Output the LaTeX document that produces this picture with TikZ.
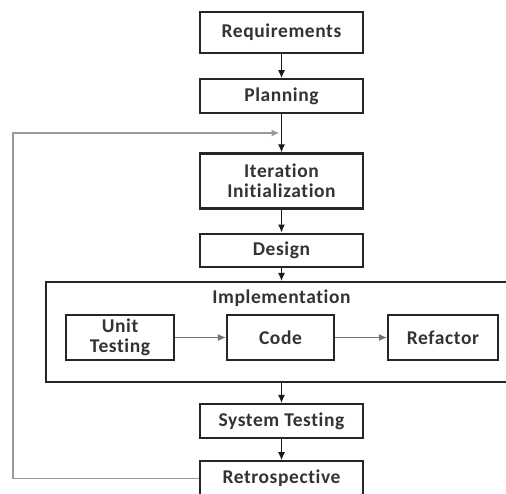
\documentclass[tikz,border=0pt]{standalone}
\usepackage{fontspec}
\setmainfont{Carlito}[Ligatures=NoCommon, LetterSpace=3]
\usetikzlibrary{positioning,arrows.meta}
\tikzset{
  stage/.style={draw=black!85, line width=2.2pt, minimum width=163pt, inner sep=2pt,
    font=\fontsize{19.5}{20}\selectfont\bfseries, text=black!80, align=center},
  sub/.style={stage, minimum width=108pt, minimum height=45pt},
  flow/.style={-{Latex[length=8pt,width=7pt]}, line width=1.1pt, black!90},
  back/.style={-{Latex[length=8pt,width=7pt]}, line width=1.4pt, black!40},
}
\begin{document}
\begin{tikzpicture}[x=1pt,y=1pt]
  \useasboundingbox (0,0) rectangle (506,-493);
  \node[stage, minimum height=41pt] (req) at (281.5,-32.5) {Requirements};
  \node[stage, minimum height=34pt, below=24pt of req] (plan) {Planning};
  \node[stage, minimum height=55pt, below=38pt of plan] (iter) {Iteration\\Initialization};
  \node[stage, minimum height=33pt, below=23pt of iter] (design) {Design};
  % implementation frame with the three inner steps
  \node[draw=black!85, line width=2.2pt, minimum width=466pt, minimum height=100pt,
    inner sep=0pt] (impl) at (279,-332) {};
  \node[font=\fontsize{19.5}{20}\selectfont\bfseries, text=black!80] (impltitle) at (281.5,-298) {Implementation};
  \node[sub] (unit) at (120,-337.5) {Unit\\Testing};
  \node[sub, minimum width=107pt] (code) at (280.5,-337.5) {Code};
  \node[sub, minimum width=110pt] (refac) at (443,-337.5) {Refactor};
  \node[stage, minimum height=34pt] (sys) at (281.5,-421) {System Testing};
  \node[stage, minimum height=34pt, below=21pt of sys] (retro) {Retrospective};
  \coordinate (loop) at (281.5,-133);
  \draw[flow] (req) -- (plan);
  \draw[flow] (plan) -- (iter);
  \draw[flow] (iter) -- (design);
  \draw[flow] (design) -- (design |- impl.north);
  \draw[flow] (sys |- impl.south) -- (sys);
  \draw[flow] (sys) -- (retro);
  \draw[back, line width=1.1pt, black!55] (unit) -- (code);
  \draw[back, line width=1.1pt, black!55] (code) -- (refac);
  \draw[back] (retro.west) -| (13,-133) -- ([xshift=-2pt]loop);
\end{tikzpicture}
\end{document}
